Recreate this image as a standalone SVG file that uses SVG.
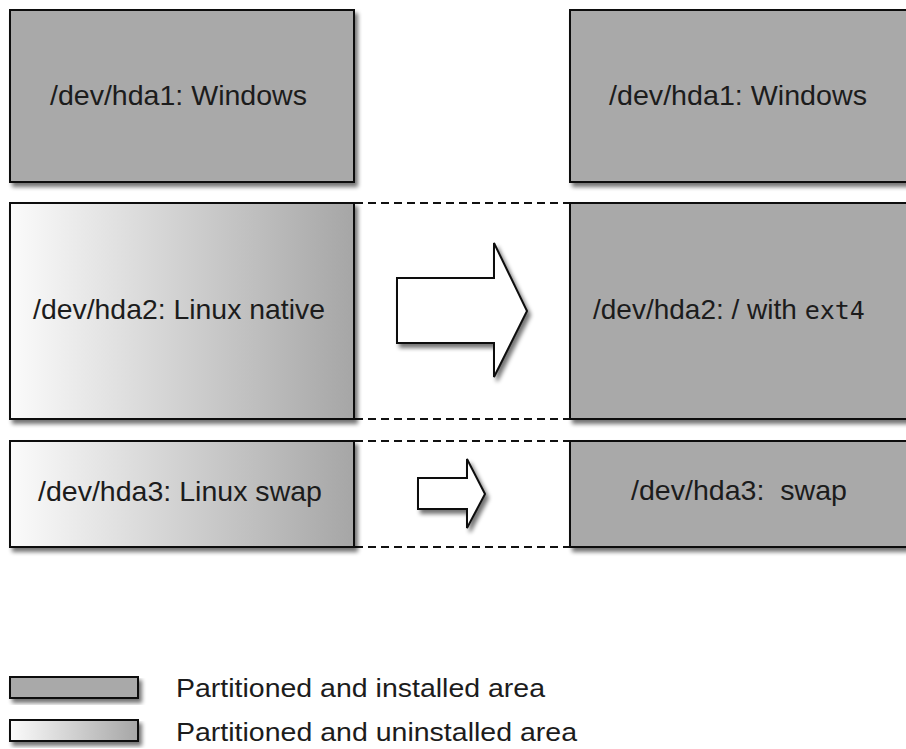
<svg xmlns="http://www.w3.org/2000/svg" width="906" height="749" viewBox="0 0 906 749">
<defs>
<linearGradient id="grad" x1="0" y1="0" x2="1" y2="0">
<stop offset="0" stop-color="#fbfbfb"/>
<stop offset="1" stop-color="#a6a6a6"/>
</linearGradient>
<filter id="sh" x="-10%" y="-10%" width="130%" height="140%">
<feGaussianBlur in="SourceAlpha" stdDeviation="2"/>
<feOffset dx="3" dy="4" result="b"/>
<feComponentTransfer><feFuncA type="linear" slope="0.55"/></feComponentTransfer>
<feMerge><feMergeNode/><feMergeNode in="SourceGraphic"/></feMerge>
</filter>
</defs>
<style>
.box{stroke:#111;stroke-width:2;filter:url(#sh)}
.inst{fill:#a9a9a9}
.uninst{fill:url(#grad)}
.lbl{font-family:"Liberation Sans",Arial,sans-serif;font-size:28px;fill:#1c1c1c}
.leg{font-family:"Liberation Sans",Arial,sans-serif;font-size:26px;fill:#1c1c1c}
.mono{font-family:"DejaVu Sans Mono","Liberation Mono",monospace;font-size:25px}
.dash{stroke:#111;stroke-width:1.8;stroke-dasharray:8 5;fill:none}
.arrow{fill:#fff;stroke:#111;stroke-width:2;stroke-linejoin:miter;filter:url(#sh)}
</style>
<rect width="906" height="749" fill="#fff"/>
<g id="connectors">
<line class="dash" x1="355" y1="203" x2="570" y2="203"/>
<line class="dash" x1="355" y1="419" x2="570" y2="419"/>
<line class="dash" x1="355" y1="441" x2="570" y2="441"/>
<line class="dash" x1="355" y1="547" x2="570" y2="547"/>
<polygon class="arrow" points="397,278 494,278 494,243 527,311 494,377 494,343 397,343"/>
<polygon class="arrow" points="418,478 467,478 467,459 485,494 467,528 467,509 418,509"/>
</g>
<g id="left-hda1">
<rect class="box inst" x="10" y="10" width="344" height="172"/>
<text class="lbl" x="50" y="105" textLength="257" lengthAdjust="spacingAndGlyphs">/dev/hda1: Windows</text>
</g>
<g id="left-hda2">
<rect class="box uninst" x="10" y="203" width="344" height="216"/>
<text class="lbl" x="33" y="319" textLength="292" lengthAdjust="spacingAndGlyphs">/dev/hda2: Linux native</text>
</g>
<g id="left-hda3">
<rect class="box uninst" x="10" y="441" width="344" height="106"/>
<text class="lbl" x="38" y="501" textLength="284" lengthAdjust="spacingAndGlyphs">/dev/hda3: Linux swap</text>
</g>
<g id="right-hda1">
<rect class="box inst" x="570" y="10" width="350" height="172"/>
<text class="lbl" x="609" y="105" textLength="258" lengthAdjust="spacingAndGlyphs">/dev/hda1: Windows</text>
</g>
<g id="right-hda2">
<rect class="box inst" x="570" y="203" width="350" height="216"/>
<text class="lbl" x="593" y="319">/dev/hda2: / with <tspan class="mono">ext4</tspan></text>
</g>
<g id="right-hda3">
<rect class="box inst" x="570" y="441" width="350" height="106"/>
<text class="lbl" x="631" y="500" textLength="216" lengthAdjust="spacingAndGlyphs" xml:space="preserve">/dev/hda3:  swap</text>
</g>
<g id="legend-installed">
<rect class="box inst" x="10" y="677" width="128" height="21"/>
<text class="leg" x="176" y="697" textLength="369" lengthAdjust="spacingAndGlyphs">Partitioned and installed area</text>
</g>
<g id="legend-uninstalled">
<rect class="box uninst" x="10" y="720" width="128" height="21"/>
<text class="leg" x="176" y="741" textLength="401" lengthAdjust="spacingAndGlyphs">Partitioned and uninstalled area</text>
</g>
</svg>
